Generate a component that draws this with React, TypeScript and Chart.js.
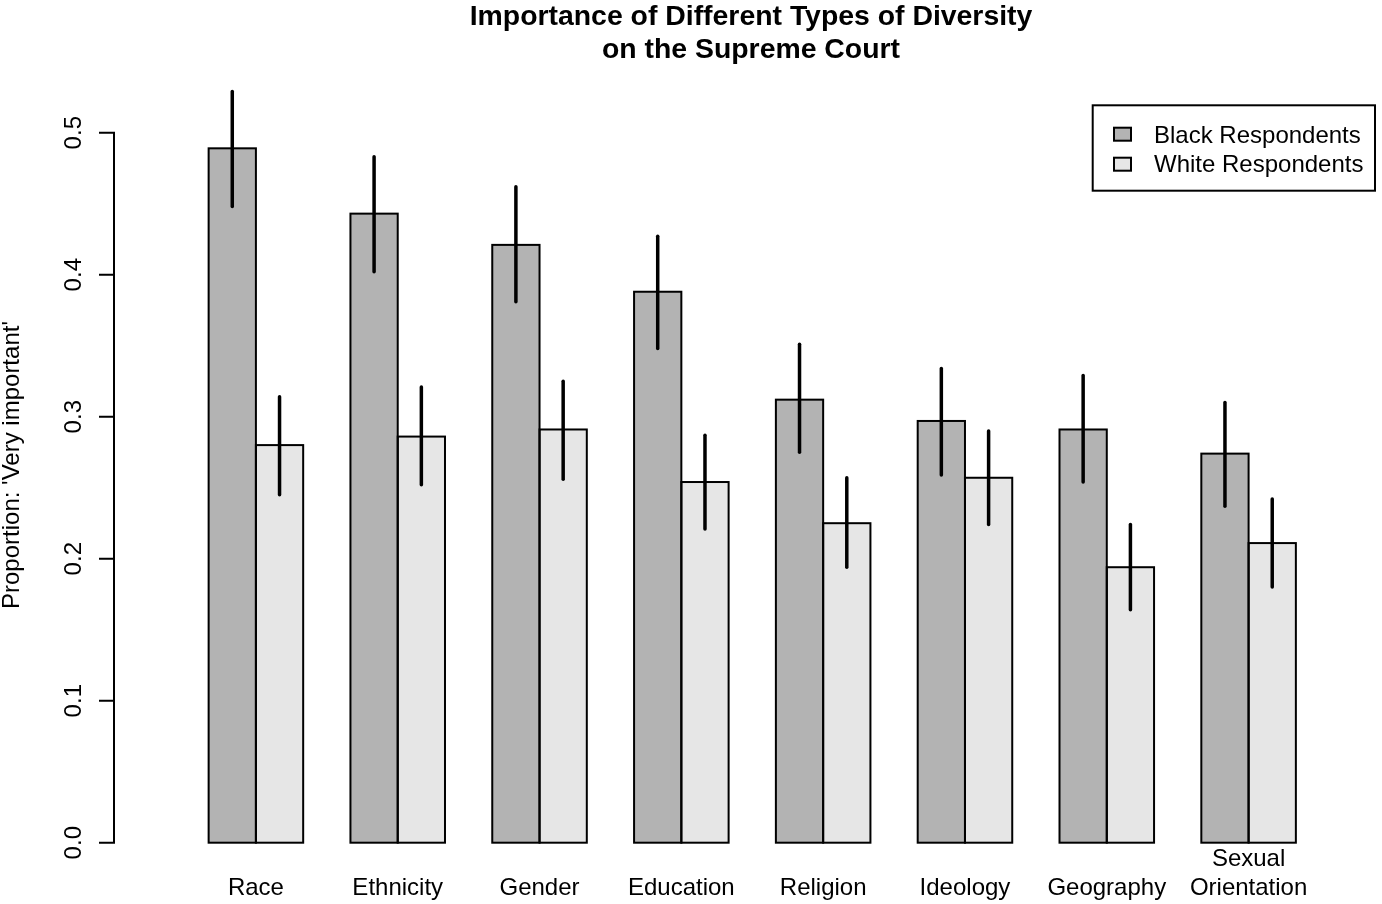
import { useEffect, useRef } from "react";
import { Chart, registerables, type Plugin } from "chart.js";

Chart.register(...registerables);

// Categories (x axis) – multi-line labels are arrays
const CATEGORIES: (string | string[])[] = [
  "Race",
  "Ethnicity",
  "Gender",
  "Education",
  "Religion",
  "Ideology",
  "Geography",
  ["Sexual", "Orientation"],
];

const SERIES_NAMES = ["Black Respondents", "White Respondents"];

// Proportion answering 'Very important'
const BLACK = [0.489, 0.443, 0.421, 0.388, 0.312, 0.297, 0.291, 0.274];
const WHITE = [0.280, 0.286, 0.291, 0.254, 0.225, 0.257, 0.194, 0.211];

// Confidence interval ends
const BLACK_HI = [0.529, 0.483, 0.462, 0.427, 0.351, 0.334, 0.329, 0.310];
const BLACK_LO = [0.448, 0.402, 0.381, 0.348, 0.275, 0.259, 0.254, 0.237];
const WHITE_HI = [0.314, 0.321, 0.325, 0.287, 0.257, 0.290, 0.224, 0.242];
const WHITE_LO = [0.245, 0.252, 0.256, 0.221, 0.194, 0.224, 0.164, 0.180];

const Y_TICKS = [0, 0.1, 0.2, 0.3, 0.4, 0.5];

const TITLE_LINES = ["Importance of Different Types of Diversity", "on the Supreme Court"];
const Y_TITLE = "Proportion: 'Very important'";

const FONT = '"Liberation Sans", Arial, Helvetica, sans-serif';
const FILLS = ["#b3b3b3", "#e6e6e6"];

const rStylePlugin: Plugin<"bar"> = {
  id: "rStyle",
  afterDatasetsDraw(chart) {
    const { ctx, scales } = chart;
    const y = scales.y;
    ctx.save();

    // bar outlines, centred on the bar edges like R's rect()
    ctx.strokeStyle = "#000";
    ctx.lineWidth = 2;
    chart.data.datasets.forEach((_, di) => {
      chart.getDatasetMeta(di).data.forEach((el: any) => {
        const p = el.getProps(["x", "y", "base", "width"], true);
        ctx.strokeRect(p.x - p.width / 2, p.y, p.width, p.base - p.y);
      });
    });

    // error bars
    const his = [BLACK_HI, WHITE_HI];
    const los = [BLACK_LO, WHITE_LO];
    ctx.lineWidth = 3.5;
    ctx.lineCap = "round";
    chart.data.datasets.forEach((_, di) => {
      chart.getDatasetMeta(di).data.forEach((el: any, i: number) => {
        const px = el.getProps(["x"], true).x;
        ctx.beginPath();
        ctx.moveTo(px, y.getPixelForValue(his[di][i]));
        ctx.lineTo(px, y.getPixelForValue(los[di][i]));
        ctx.stroke();
      });
    });
    ctx.restore();
  },
  afterDraw(chart) {
    const { ctx, chartArea, scales, width } = chart;
    const x = scales.x;
    const y = scales.y;
    ctx.save();
    ctx.fillStyle = "#000";
    ctx.strokeStyle = "#000";

    // title
    ctx.font = `bold 28.4px ${FONT}`;
    ctx.textAlign = "center";
    ctx.textBaseline = "alphabetic";
    ctx.fillText(TITLE_LINES[0], 751, 25);
    ctx.fillText(TITLE_LINES[1], 751, 58);

    // y axis (offset from the bars, as in R)
    const axisX = chartArea.left - 71;
    ctx.lineWidth = 2;
    ctx.lineCap = "butt";
    ctx.beginPath();
    ctx.moveTo(axisX, y.getPixelForValue(Y_TICKS[0]));
    ctx.lineTo(axisX, y.getPixelForValue(Y_TICKS[Y_TICKS.length - 1]));
    Y_TICKS.forEach((t) => {
      const py = y.getPixelForValue(t);
      ctx.moveTo(axisX + 1, py);
      ctx.lineTo(axisX - 15, py);
    });
    ctx.stroke();

    ctx.font = `24px ${FONT}`;
    Y_TICKS.forEach((t) => {
      const py = y.getPixelForValue(t);
      ctx.save();
      ctx.translate(axisX - 33, py);
      ctx.rotate(-Math.PI / 2);
      ctx.textAlign = "center";
      ctx.textBaseline = "alphabetic";
      ctx.fillText(t.toFixed(1), 0, 0);
      ctx.restore();
    });

    // y title
    ctx.save();
    ctx.translate(19, 465);
    ctx.rotate(-Math.PI / 2);
    ctx.textAlign = "center";
    ctx.textBaseline = "alphabetic";
    ctx.fillText(Y_TITLE, 0, 0);
    ctx.restore();

    // category labels
    ctx.textAlign = "center";
    ctx.textBaseline = "alphabetic";
    CATEGORIES.forEach((c, i) => {
      const lines = Array.isArray(c) ? c : [c];
      const px = x.getPixelForValue(i);
      lines.forEach((ln, k) => {
        ctx.fillText(ln, px, 895 - (lines.length - 1 - k) * 29);
      });
    });

    // legend box
    const lx = width - 290;
    ctx.lineWidth = 2;
    ctx.strokeRect(lx + 0.7, 105.3, 282.3, 85.4);
    SERIES_NAMES.forEach((name, i) => {
      const top = 127.7 + i * 30;
      ctx.fillStyle = FILLS[i];
      ctx.fillRect(lx + 22, top, 17, 13);
      ctx.strokeRect(lx + 22, top, 17, 13);
      ctx.fillStyle = "#000";
      ctx.textAlign = "left";
      ctx.fillText(name, lx + 62, 143 + i * 29);
    });

    ctx.restore();
  },
};

export default function App() {
  const canvasRef = useRef<HTMLCanvasElement | null>(null);

  useEffect(() => {
    document.body.style.margin = "0";
    if (!canvasRef.current) return;

    const chart = new Chart(canvasRef.current, {
      type: "bar",
      data: {
        labels: CATEGORIES,
        datasets: [
          { label: SERIES_NAMES[0], data: BLACK, backgroundColor: FILLS[0], borderWidth: 0 },
          { label: SERIES_NAMES[1], data: WHITE, backgroundColor: FILLS[1], borderWidth: 0 },
        ],
      },
      options: {
        responsive: true,
        maintainAspectRatio: false,
        animation: false,
        devicePixelRatio: 1,
        categoryPercentage: 2 / 3,
        barPercentage: 1,
        layout: { padding: { left: 185, right: 62.5, top: 61.7, bottom: 61.3 } },
        scales: {
          x: { display: false },
          y: { display: false, min: 0, max: 0.55 },
        },
        plugins: {
          legend: { display: false },
          title: { display: false },
          tooltip: { enabled: false },
        },
      },
      plugins: [rStylePlugin],
    });

    return () => chart.destroy();
  }, []);

  return (
    <div style={{ position: "relative", width: 1382, height: 904, background: "#fff" }}>
      <canvas ref={canvasRef} />
    </div>
  );
}
